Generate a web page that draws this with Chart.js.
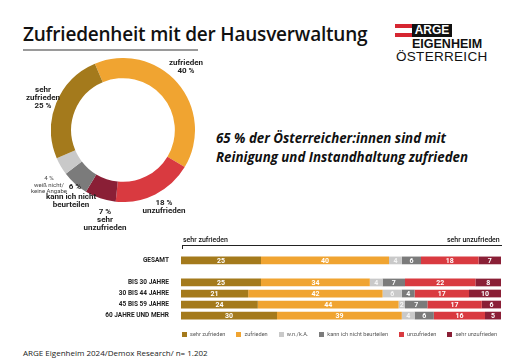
<!DOCTYPE html>
<html><head><meta charset="utf-8">
<script src="https://cdn.jsdelivr.net/npm/chart.js@4/dist/chart.umd.min.js"></script>
<style>
html,body{margin:0;padding:0;}
body{width:512px;height:362px;background:#fff;position:relative;overflow:hidden;font-family:"Open Sans",sans-serif;color:#111;}
.abs{position:absolute;white-space:nowrap;line-height:1;}
.dl{position:absolute;text-align:center;font-family:Roboto,sans-serif;font-weight:700;font-size:8px;line-height:8px;color:#222;white-space:nowrap;transform:translateX(-50%);}
#legend{position:absolute;left:182px;top:331px;display:flex;gap:11px;font-family:Roboto,sans-serif;font-size:5.6px;line-height:6px;color:#555;white-space:nowrap;}
#legend span.it{display:flex;align-items:center;}
#legend i{display:inline-block;width:5px;height:5px;margin-right:3px;}
</style></head><body>

<div class="abs" id="title" style="left:23px;top:25px;font-size:19px;font-weight:600;letter-spacing:-0.2px;">Zufriedenheit mit der Hausverwaltung</div>
<div class="abs" style="left:23px;top:49px;width:175px;height:2px;background:#9a9a9a;"></div>

<!-- logo -->
<div class="abs" style="left:395px;top:24px;width:17px;height:13px;background:linear-gradient(to bottom,#d62631 0 33%,#fff 33% 66%,#d62631 66% 100%);"></div>
<div class="abs" style="left:412px;top:24px;width:40px;height:13px;background:#111;color:#fff;font-family:'Liberation Sans',Arial,sans-serif;font-weight:700;font-size:12px;line-height:13px;text-align:center;">ARGE</div>
<div class="abs" style="left:412px;top:38px;font-family:'Liberation Sans',Arial,sans-serif;font-weight:700;font-size:12.5px;">EIGENHEIM</div>
<div class="abs" style="left:396px;top:50px;font-family:'Liberation Sans',Arial,sans-serif;font-size:13.5px;letter-spacing:0.3px;">ÖSTERREICH</div>

<div class="abs" style="left:216px;top:129px;font-size:13.3px;font-weight:700;font-style:italic;line-height:19px;">65 % der Österreicher:innen sind mit<br>Reinigung und Instandhaltung zufrieden</div>

<!-- donut -->
<div class="abs" style="left:51px;top:58px;width:144px;height:144px;"><canvas id="donut"></canvas></div>

<div class="dl" style="left:186px;top:59px;">zufrieden<br>40 %</div>
<div class="dl" style="left:43px;top:86px;">sehr<br>zufrieden<br>25 %</div>
<div class="dl" style="left:49px;top:175px;font-weight:400;font-size:6px;line-height:6.5px;color:#444;">4 %<br>weiß nicht/<br>keine Angabe</div>
<div class="dl" style="left:75px;top:183px;">6 %</div>
<div class="dl" style="left:71px;top:193px;">kann ich nicht<br>beurteilen</div>
<div class="dl" style="left:105px;top:208px;">7 %<br>sehr<br>unzufrieden</div>
<div class="dl" style="left:164px;top:199px;">18 %<br>unzufrieden</div>

<!-- bar header -->
<div class="abs" style="left:183px;top:237px;font-family:Roboto,sans-serif;font-size:7px;font-weight:500;">sehr zufrieden</div>
<div class="abs" style="left:447px;top:237px;font-family:Roboto,sans-serif;font-size:7px;font-weight:500;">sehr unzufrieden</div>
<div class="abs" style="left:182px;top:245px;width:320px;height:1px;background:#222;"></div>
<div class="abs" style="left:182px;top:245px;width:1px;height:4px;background:#222;"></div>

<div class="abs" style="left:100px;top:247px;width:401px;height:82px;"><canvas id="bars"></canvas></div>
<div id="legend"></div>

<div class="abs" style="left:23px;top:349px;font-size:8px;color:#222;">ARGE Eigenheim 2024/Demox Research/ n= 1.202</div>

<script>
// ---- data ----
const categories = ['sehr zufrieden','zufrieden','w.n./k.A.','kann ich nicht beurteilen','unzufrieden','sehr unzufrieden'];
const colors = ['#a47a1c','#f0a431','#c9c9c9','#7b7b7b','#d93a40','#8a1f36'];
// donut shares (Gesamt), in category order
const donutValues = [25, 40, 4, 6, 18, 7];
// clockwise order of segments in the ring, starting at the top
const donutOrder = [1, 4, 5, 3, 2, 0];

const rowLabels = ['GESAMT', '', 'BIS 30 JAHRE', '30 BIS 44 JAHRE', '45 BIS 59 JAHRE', '60 JAHRE UND MEHR'];
const sehrZufrieden   = [25, null, 25, 21, 24, 30];
const zufrieden       = [40, null, 34, 42, 44, 39];
const wnka            = [4,  null, 4,  6,  2,  4];
const kannNicht       = [6,  null, 7,  4,  7,  6];
const unzufrieden     = [18, null, 22, 17, 17, 16];
const sehrUnzufrieden = [7,  null, 8,  10, 6,  5];
const barSeries = [sehrZufrieden, zufrieden, wnka, kannNicht, unzufrieden, sehrUnzufrieden];

// legend (built from the category / colour arrays)
const lg = document.getElementById('legend');
categories.forEach((c, i) => {
  const s = document.createElement('span'); s.className = 'it';
  const b = document.createElement('i'); b.style.background = colors[i];
  s.appendChild(b); s.appendChild(document.createTextNode(c));
  lg.appendChild(s);
});

// ---- donut ----
new Chart(document.getElementById('donut'), {
  type: 'doughnut',
  data: {
    labels: donutOrder.map(i => categories[i]),
    datasets: [{
      data: donutOrder.map(i => donutValues[i]),
      backgroundColor: donutOrder.map(i => colors[i]),
      borderWidth: 0
    }]
  },
  options: {
    responsive: true, maintainAspectRatio: false, animation: false,
    rotation: -23, cutout: '72%',
    plugins: { legend: { display: false }, tooltip: { enabled: false } },
    layout: { padding: 0 }
  }
});

// ---- bars ----
const barLabels = {
  id: 'barLabels',
  afterDatasetsDraw(chart) {
    const ctx = chart.ctx;
    ctx.save();
    ctx.font = 'bold 7px Roboto, sans-serif';
    ctx.textAlign = 'center';
    ctx.textBaseline = 'middle';
    chart.data.datasets.forEach((ds, i) => {
      chart.getDatasetMeta(i).data.forEach((el, j) => {
        const v = ds.data[j];
        if (v == null) return;
        ctx.fillStyle = i === 2 ? '#f4f4f4' : '#ffffff';
        ctx.fillText(String(v), (el.x + el.base) / 2, el.y + 0.5);
      });
    });
    ctx.restore();
  }
};

new Chart(document.getElementById('bars'), {
  type: 'bar',
  data: {
    labels: rowLabels,
    datasets: categories.map((c, i) => ({
      label: c,
      data: barSeries[i],
      backgroundColor: colors[i],
      borderWidth: 0,
      barPercentage: 0.7,
      categoryPercentage: 1
    }))
  },
  options: {
    indexAxis: 'y',
    responsive: true, maintainAspectRatio: false, animation: false,
    layout: { padding: 0 },
    scales: {
      x: { stacked: true, min: 0, max: 100, display: false },
      y: {
        stacked: true,
        grid: { display: false }, border: { display: false },
        ticks: { color: '#222', padding: 4, autoSkip: false, font: { family: 'Roboto, sans-serif', size: 6.5, weight: 'bold' } },
        afterFit(scale) { scale.width = 81; }
      }
    },
    plugins: {
      tooltip: { enabled: false },
      legend: { display: false }
    }
  },
  plugins: [barLabels]
});
</script>
</body></html>
